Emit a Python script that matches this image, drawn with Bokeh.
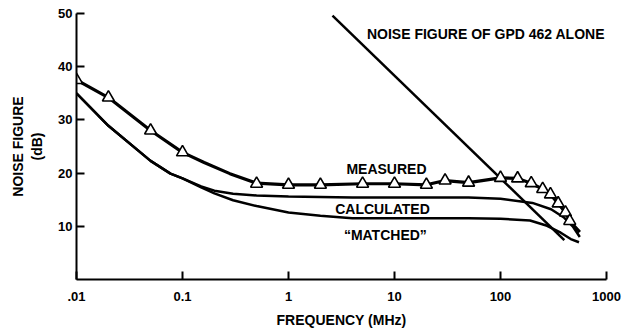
from bokeh.plotting import figure
from bokeh.models import FixedTicker, CustomJSTickFormatter, Label
from bokeh.embed import file_html
from bokeh.resources import INLINE

# Measured (triangles)
meas_f = [0.01, 0.02, 0.05, 0.1, 0.5, 1, 2, 5, 10, 20, 30, 50, 100, 145, 195, 250, 296, 350, 410, 450]
meas_nf = [37.5, 34.2, 28.0, 23.9, 18.0, 17.8, 17.8, 18.0, 18.0, 17.8, 18.6, 18.2, 19.1, 19.0, 18.1, 17.0, 16.0, 14.3, 12.6, 11.0]
# Measured curve
meas_line_f = [0.01, 0.02, 0.05, 0.1, 0.16, 0.28, 0.5, 1, 2, 5, 10, 20, 30, 50, 100, 145, 195, 250, 296, 350, 410, 450, 560]
meas_line_nf = [37.5, 34.2, 28.0, 23.9, 22.0, 19.9, 18.1, 17.8, 17.8, 18.0, 18.0, 17.8, 18.6, 18.2, 19.1, 19.0, 18.1, 17.0, 16.0, 14.3, 12.6, 11.0, 8.9]

calc_f = [0.01, 0.02, 0.05, 0.077, 0.1, 0.15, 0.2, 0.3, 0.5, 1, 4, 50, 100, 200, 300, 400, 480, 560]
calc_nf = [35.0, 28.9, 22.3, 19.9, 19.0, 17.5, 16.7, 16.1, 15.8, 15.6, 15.4, 15.4, 15.2, 14.4, 13.2, 11.6, 10.0, 8.0]

match_f = [0.01, 0.02, 0.05, 0.077, 0.1, 0.15, 0.2, 0.3, 0.5, 1, 2, 4, 50, 100, 190, 275, 370, 460, 550]
match_nf = [35.0, 28.9, 22.3, 19.9, 19.0, 17.3, 16.2, 14.9, 13.8, 12.6, 12.0, 11.5, 11.5, 11.4, 11.1, 10.1, 8.8, 7.6, 7.0]

gpd_f = [2.6, 400]
gpd_nf = [49.6, 7.4]

x_ticks = [0.01, 0.1, 1, 10, 100, 1000]
x_tick_labels = [".01", "0.1", "1", "10", "100", "1000"]
y_ticks = [10, 20, 30, 40, 50]

FONT = "Liberation Sans"

p = figure(width=626, height=331, x_axis_type="log", x_range=(0.01, 1000), y_range=(0, 50),
           output_backend="svg", toolbar_location=None,
           min_border_left=76, min_border_right=20, min_border_top=13, min_border_bottom=52)
p.outline_line_color = None
p.grid.visible = False
p.background_fill_color = "white"

for ax in (p.xaxis[0], p.yaxis[0]):
    ax.axis_line_width = 2
    ax.axis_line_color = "black"
    ax.major_tick_line_width = 2
    ax.major_tick_line_color = "black"
    ax.major_tick_in = 8
    ax.major_tick_out = 0
    ax.minor_tick_line_color = None
    ax.major_label_text_font = FONT
    ax.major_label_text_font_style = "bold"
    ax.major_label_text_font_size = "13px"
    ax.major_label_text_color = "black"
    ax.axis_label_text_font = FONT
    ax.axis_label_text_font_style = "bold"
    ax.axis_label_text_font_size = "14px"
    ax.axis_label_text_color = "black"

p.xaxis.ticker = FixedTicker(ticks=x_ticks)
p.xaxis.formatter = CustomJSTickFormatter(args=dict(tlabels=x_tick_labels, tvals=x_ticks),
    code="""
    for (let i = 0; i < tvals.length; i++) {
        if (Math.abs(Math.log10(tick) - Math.log10(tvals[i])) < 1e-6) return tlabels[i];
    }
    return '';
    """)
p.xaxis.major_label_standoff = 12
p.xaxis.axis_label = "FREQUENCY (MHz)"
p.xaxis.axis_label_standoff = 8

p.yaxis.ticker = FixedTicker(ticks=y_ticks)
p.yaxis.major_label_standoff = 4
p.yaxis.axis_label = "NOISE FIGURE\n(dB)"
p.yaxis.axis_label_standoff = 10

p.line(gpd_f, gpd_nf, line_color="black", line_width=2.5)
p.line(match_f, match_nf, line_color="black", line_width=2.5)
p.line(calc_f, calc_nf, line_color="black", line_width=2.5)
p.line(meas_line_f, meas_line_nf, line_color="black", line_width=3.2)
p.scatter(meas_f, meas_nf, marker="triangle", size=12, fill_color="white",
          line_color="black", line_width=1.6)

def add_label(x, y, text, align):
    p.add_layout(Label(x=x, y=y, text=text, text_align=align, text_baseline="middle",
                       text_font=FONT, text_font_style="bold", text_font_size="14px",
                       text_color="black"))

add_label(5.5, 46.2, "NOISE FIGURE OF GPD 462 ALONE", "left")
add_label(8.4, 20.7, "MEASURED", "center")
add_label(7.7, 13.3, "CALCULATED", "center")
add_label(8.2, 8.3, "\u201cMATCHED\u201d", "center")

open("out.html", "w").write(file_html(p, INLINE))
